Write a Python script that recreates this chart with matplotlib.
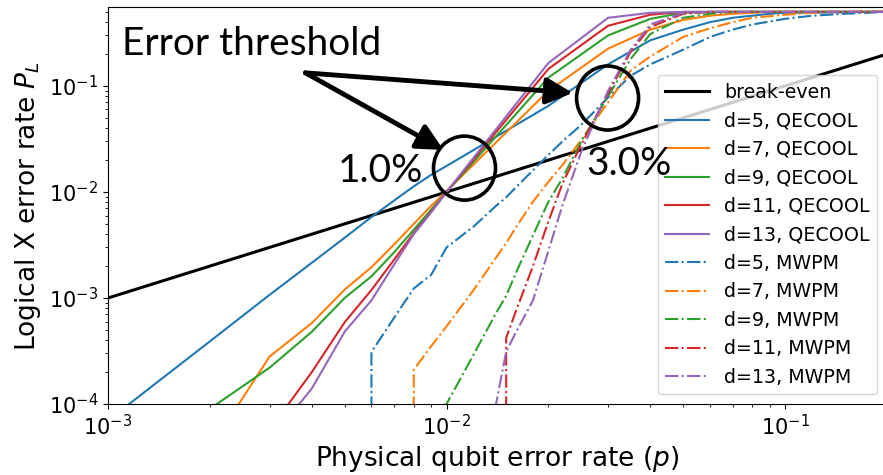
import numpy as np
import matplotlib
matplotlib.use("Agg")
import matplotlib.pyplot as plt
from matplotlib.patches import Ellipse
from matplotlib.transforms import IdentityTransform

# ===================== data =====================
breakeven_p = [1e-3, 2e-1]

p_qecool = [0.001, 0.002, 0.003, 0.004, 0.005, 0.006, 0.007, 0.008, 0.009, 0.01,
            0.02, 0.03, 0.04, 0.05, 0.06, 0.07, 0.08, 0.09, 0.1, 0.2]
qecool_d5 = [7e-5, 3.9e-4, 1.07e-3, 2.15e-3, 3.7e-3, 5.8e-3, 8.3e-3, 1.13e-2, 1.45e-2, 1.76e-2,
             0.065, 0.16, 0.27, 0.34, 0.40, 0.44, 0.46, 0.48, 0.49, 0.5]
qecool_d7 = [5e-6, 3.8e-5, 2.8e-4, 5.8e-4, 1.2e-3, 1.95e-3, 3.2e-3, 5.0e-3, 7.4e-3, 1.02e-2,
             0.09, 0.225, 0.34, 0.42, 0.46, 0.48, 0.49, 0.5, 0.5, 0.5]
qecool_d9 = [8e-6, 9e-5, 2.2e-4, 4.8e-4, 1.0e-3, 1.6e-3, 2.7e-3, 4.4e-3, 6.8e-3, 1.0e-2,
             0.12, 0.30, 0.43, 0.49, 0.5, 0.5, 0.5, 0.5, 0.5, 0.5]
qecool_d11 = [1e-7, 2e-6, 5.7e-5, 2.0e-4, 5.9e-4, 1.19e-3, 2.3e-3, 4.1e-3, 6.5e-3, 1.0e-2,
              0.145, 0.37, 0.47, 0.5, 0.5, 0.5, 0.5, 0.5, 0.5, 0.5]
qecool_d13 = [1e-8, 5e-7, 4.5e-5, 1.4e-4, 4.8e-4, 9.5e-4, 2.07e-3, 4.0e-3, 6.4e-3, 1.0e-2,
              0.165, 0.44, 0.49, 0.5, 0.5, 0.5, 0.5, 0.5, 0.5, 0.5]

# 0 = no logical error observed
p_mwpm = [0.005, 0.006, 0.007, 0.008, 0.009, 0.01, 0.012, 0.014, 0.015, 0.016, 0.018, 0.02,
          0.022, 0.025, 0.03, 0.035, 0.04, 0.05, 0.06, 0.07, 0.08, 0.1, 0.12, 0.15, 0.2]
mwpm_d5 = [0, 3.1e-4, 6.5e-4, 1.23e-3, 1.65e-3, 3.0e-3, 4.7e-3, 7.4e-3, 8.9e-3, 1.1e-2, 1.6e-2, 2.24e-2,
           0.030, 0.043, 0.078, 0.125, 0.16, 0.22, 0.29, 0.34, 0.38, 0.43, 0.46, 0.48, 0.5]
mwpm_d7 = [0, 0, 0, 2.1e-4, 3.5e-4, 5.4e-4, 1.18e-3, 2.4e-3, 3.3e-3, 4.6e-3, 8.1e-3, 1.25e-2,
           0.018, 0.031, 0.07, 0.14, 0.19, 0.29, 0.35, 0.40, 0.44, 0.47, 0.49, 0.5, 0.5]
mwpm_d9 = [0, 0, 0, 0, 0, 1.0e-4, 2.9e-4, 7.2e-4, 1.05e-3, 1.7e-3, 3.9e-3, 8.1e-3,
           0.0135, 0.03, 0.08, 0.18, 0.31, 0.44, 0.48, 0.5, 0.5, 0.5, 0.5, 0.5, 0.5]
mwpm_d11 = [0, 0, 0, 0, 0, 0, 0, 0, 4.2e-4, 7.4e-4, 2.0e-3, 5.3e-3,
            0.012, 0.028, 0.085, 0.21, 0.36, 0.48, 0.5, 0.5, 0.5, 0.5, 0.5, 0.5, 0.5]
mwpm_d13 = [0, 0, 0, 0, 0, 0, 0, 1.0e-4, 3.1e-4, 4.7e-4, 9.5e-4, 2.8e-3,
            7.5e-3, 0.024, 0.09, 0.22, 0.38, 0.49, 0.5, 0.5, 0.5, 0.5, 0.5, 0.5, 0.5]

distances = [5, 7, 9, 11, 13]
qecool_series = [qecool_d5, qecool_d7, qecool_d9, qecool_d11, qecool_d13]
mwpm_series = [mwpm_d5, mwpm_d7, mwpm_d9, mwpm_d11, mwpm_d13]
colors = ["tab:blue", "tab:orange", "tab:green", "tab:red", "tab:purple"]

# ===================== figure =====================
W, H = 883, 475
fig = plt.figure(figsize=(W / 100, H / 100), dpi=100)
ax = fig.add_axes([108 / W, 71 / H, 779 / W, 397 / H])

ax.plot(breakeven_p, breakeven_p, color="black", lw=2.2, label="break-even")
for d, ys, c in zip(distances, qecool_series, colors):
    ax.plot(p_qecool, ys, color=c, lw=1.5, label=f"d={d}, QECOOL")
for d, ys, c in zip(distances, mwpm_series, colors):
    ax.plot(p_mwpm, ys, color=c, lw=1.5, ls="-.", label=f"d={d}, MWPM")

ax.set_xscale("log")
ax.set_yscale("log", nonpositive="clip")
ax.set_xlim(1e-3, 0.2)
ax.set_ylim(1e-4, 0.556)
ax.tick_params(labelsize=15)
ax.set_xlabel("Physical qubit error rate ($p$)", fontsize=19)
ax.set_ylabel("Logical X error rate $P_L$", fontsize=19)

ax.legend(loc="lower right", fontsize=13.7, labelspacing=0.5, handlelength=2.3)

# annotations (drawn above the legend)
ann_font = dict(family="Lato", fontsize=28, color="black", zorder=6)
ax.text(0.0011, 0.196, "Error threshold", ha="left", va="baseline", **ann_font)
ax.text(0.00476, 0.0124, "1.0%", ha="left", va="baseline", **ann_font)
ax.text(0.0258, 0.0145, "3.0%", ha="left", va="baseline", **ann_font)

arrow_tail = (0.00383, 0.133)
for head in [(0.0098, 0.0249), (0.0236, 0.086)]:
    ax.annotate("", xy=head, xytext=arrow_tail, zorder=6,
                arrowprops=dict(arrowstyle="-|>,head_length=0.8,head_width=0.4",
                                lw=3.5, color="black", shrinkA=0, shrinkB=0,
                                mutation_scale=20))

for center in [(0.0113, 0.0168), (0.0299, 0.077)]:
    cx, cy = ax.transData.transform(center)
    ax.add_patch(Ellipse((cx, cy), 62, 64, transform=IdentityTransform(),
                         fill=False, ec="black", lw=2.6, clip_on=False, zorder=6))

fig.savefig("out.png", dpi=100)
